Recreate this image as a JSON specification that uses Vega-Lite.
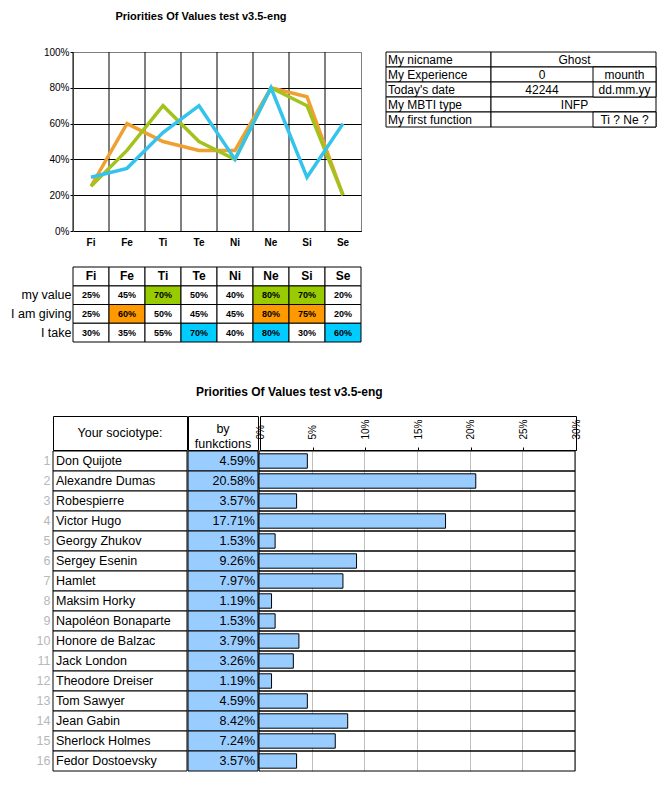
{
  "$schema": "https://vega.github.io/schema/vega-lite/v6.json",
  "padding": {"left": 10, "top": 10, "right": 5, "bottom": 5},
  "autosize": {"type": "pad"},
  "background": "white",
  "config": {
    "view": {"stroke": null},
    "font": "Liberation Sans",
    "axis": {"labelFont": "Liberation Sans", "labelColor": "black"},
    "title": {"font": "Liberation Sans", "color": "black"},
    "text": {"font": "Liberation Sans", "color": "black"}
  },
  "datasets": {
    "values": [
      {"func": "Fi", "row": "I am giving", "value": 0.25},
      {"func": "Fe", "row": "I am giving", "value": 0.60},
      {"func": "Ti", "row": "I am giving", "value": 0.50},
      {"func": "Te", "row": "I am giving", "value": 0.45},
      {"func": "Ni", "row": "I am giving", "value": 0.45},
      {"func": "Ne", "row": "I am giving", "value": 0.80},
      {"func": "Si", "row": "I am giving", "value": 0.75},
      {"func": "Se", "row": "I am giving", "value": 0.20},
      {"func": "Fi", "row": "my value", "value": 0.25},
      {"func": "Fe", "row": "my value", "value": 0.45},
      {"func": "Ti", "row": "my value", "value": 0.70},
      {"func": "Te", "row": "my value", "value": 0.50},
      {"func": "Ni", "row": "my value", "value": 0.40},
      {"func": "Ne", "row": "my value", "value": 0.80},
      {"func": "Si", "row": "my value", "value": 0.70},
      {"func": "Se", "row": "my value", "value": 0.20},
      {"func": "Fi", "row": "I take", "value": 0.30},
      {"func": "Fe", "row": "I take", "value": 0.35},
      {"func": "Ti", "row": "I take", "value": 0.55},
      {"func": "Te", "row": "I take", "value": 0.70},
      {"func": "Ni", "row": "I take", "value": 0.40},
      {"func": "Ne", "row": "I take", "value": 0.80},
      {"func": "Si", "row": "I take", "value": 0.30},
      {"func": "Se", "row": "I take", "value": 0.60}
    ],
    "info": [
      {"label": "My nicname", "value": "Ghost", "unit": null},
      {"label": "My Experience", "value": "0", "unit": "mounth"},
      {"label": "Today's date", "value": "42244", "unit": "dd.mm.yy"},
      {"label": "My MBTI type", "value": "INFP", "unit": null},
      {"label": "My first function", "value": "", "unit": "Ti ? Ne ?"}
    ],
    "types": [
      {"n": 1, "name": "Don Quijote", "pct": 0.0459},
      {"n": 2, "name": "Alexandre Dumas", "pct": 0.2058},
      {"n": 3, "name": "Robespierre", "pct": 0.0357},
      {"n": 4, "name": "Victor Hugo", "pct": 0.1771},
      {"n": 5, "name": "Georgy Zhukov", "pct": 0.0153},
      {"n": 6, "name": "Sergey  Esenin", "pct": 0.0926},
      {"n": 7, "name": "Hamlet", "pct": 0.0797},
      {"n": 8, "name": "Maksim Horky", "pct": 0.0119},
      {"n": 9, "name": "Napoléon Bonaparte", "pct": 0.0153},
      {"n": 10, "name": "Honore de Balzac", "pct": 0.0379},
      {"n": 11, "name": "Jack London", "pct": 0.0326},
      {"n": 12, "name": "Theodore Dreiser", "pct": 0.0119},
      {"n": 13, "name": "Tom Sawyer", "pct": 0.0459},
      {"n": 14, "name": "Jean Gabin", "pct": 0.0842},
      {"n": 15, "name": "Sherlock Holmes", "pct": 0.0724},
      {"n": 16, "name": "Fedor Dostoevsky", "pct": 0.0357}
    ]
  },
  "spacing": 43,
  "vconcat": [
    {
      "spacing": -100,
      "hconcat": [
        {"width": 20, "height": 1, "data": {"values": []}, "mark": "text"},
        {
          "spacing": 23,
          "hconcat": [
            {
              "spacing": 18,
              "vconcat": [
                {
                  "width": 288,
                  "height": 179,
                  "title": {"text": "Priorities Of Values test v3.5-eng", "fontSize": 11, "fontWeight": "bold", "anchor": "middle", "dx": -16, "offset": 14, "frame": "group", "baseline": "bottom"},
                  "view": {"stroke": "#808080"},
                  "data": {"name": "values"},
                  "layer": [
                    {
                      "transform": [{"filter": "datum.row === 'my value'"}],
                      "mark": {"type": "rule", "color": "black", "strokeWidth": 1},
                      "encoding": {
                        "x": {"field": "func", "type": "nominal", "sort": ["Fi", "Fe", "Ti", "Te", "Ni", "Ne", "Si", "Se"], "bandPosition": 0,
                          "scale": {"type": "band", "paddingInner": 0, "paddingOuter": 0},
                          "axis": {"title": null, "labelFontSize": 10, "labelFontWeight": "bold", "labelAngle": 0, "ticks": false, "domainColor": "black", "labelPadding": 6, "grid": false}}
                      }
                    },
                    {
                      "mark": {"type": "line", "strokeWidth": 3.5},
                      "encoding": {
                        "x": {"field": "func", "type": "nominal", "sort": ["Fi", "Fe", "Ti", "Te", "Ni", "Ne", "Si", "Se"], "bandPosition": 0.5,
                          "scale": {"type": "band", "paddingInner": 0, "paddingOuter": 0}},
                        "y": {"field": "value", "type": "quantitative", "scale": {"domain": [0, 1]},
                          "axis": {"title": null, "values": [0, 0.2, 0.4, 0.6, 0.8, 1], "format": ".0%", "grid": true,
                            "gridColor": {"condition": {"test": "datum.value === 1", "value": "#808080"}, "value": "black"},
                            "gridOpacity": 1, "domainColor": "#808080", "tickColor": "black", "tickSize": 3, "labelFontSize": 10, "labelPadding": 1}},
                        "stroke": {"field": "row", "type": "nominal", "scale": {"domain": ["I am giving", "my value", "I take"], "range": ["#F0A030", "#A3C21E", "#33C3EC"]}, "legend": null}
                      }
                    }
                  ]
                },
                {
                  "width": 288,
                  "height": 75,
                  "data": {"name": "values"},
                  "transform": [{"window": [{"op": "rank", "as": "rank"}], "groupby": ["row"], "sort": [{"field": "value", "order": "descending"}]}],
                  "encoding": {
                    "x": {"field": "func", "type": "nominal", "sort": ["Fi", "Fe", "Ti", "Te", "Ni", "Ne", "Si", "Se"], "scale": {"paddingInner": 0, "paddingOuter": 0}, "axis": null},
                    "y": {"field": "row", "type": "nominal", "scale": {"domain": [" ", "my value", "I am giving", "I take"], "paddingInner": 0, "paddingOuter": 0},
                      "axis": {"title": null, "domain": false, "ticks": false, "labelFontSize": 12.5, "labelPadding": 2}}
                  },
                  "layer": [
                    {
                      "mark": {"type": "rect", "stroke": "black", "strokeWidth": 1},
                      "encoding": {
                        "fill": {"condition": {"test": "datum.rank <= 3", "field": "row", "type": "nominal", "scale": {"domain": ["my value", "I am giving", "I take"], "range": ["#99CC00", "#FF9900", "#00CCFF"]}, "legend": null}, "value": "white"}
                      }
                    },
                    {
                      "mark": {"type": "text", "fontSize": 9, "fontWeight": "bold"},
                      "encoding": {"text": {"field": "value", "type": "quantitative", "format": ".0%"}}
                    },
                    {
                      "transform": [{"filter": "datum.row === 'my value'"}],
                      "mark": {"type": "rect", "stroke": "black", "strokeWidth": 1, "fill": "white"},
                      "encoding": {"y": {"datum": " ", "type": "nominal"}}
                    },
                    {
                      "transform": [{"filter": "datum.row === 'my value'"}],
                      "mark": {"type": "text", "fontSize": 12, "fontWeight": "bold"},
                      "encoding": {"y": {"datum": " ", "type": "nominal"}, "text": {"field": "func"}}
                    }
                  ]
                }
              ]
            },
            {
              "width": 270,
              "height": 75,
              "data": {"name": "info"},
              "encoding": {
                "y": {"field": "label", "type": "nominal", "sort": ["My nicname", "My Experience", "Today's date", "My MBTI type", "My first function"], "scale": {"paddingInner": 0, "paddingOuter": 0}, "axis": null}
              },
              "layer": [
                {"mark": {"type": "rect", "fill": "white", "stroke": "black"},
                  "encoding": {"x": {"datum": 0, "type": "quantitative", "scale": {"domain": [0, 270], "nice": false, "zero": false}, "axis": null}, "x2": {"datum": 105}}},
                {"mark": {"type": "rect", "fill": "white", "stroke": "black"},
                  "encoding": {"x": {"datum": 105, "type": "quantitative"}, "x2": {"datum": 270}}},
                {"transform": [{"filter": "datum.unit != null"}],
                  "mark": {"type": "rect", "fill": "white", "stroke": "black"},
                  "encoding": {"x": {"datum": 207, "type": "quantitative"}, "x2": {"datum": 270}}},
                {"mark": {"type": "text", "align": "left", "dx": 2, "fontSize": 12},
                  "encoding": {"x": {"datum": 0, "type": "quantitative"}, "text": {"field": "label"}}},
                {"transform": [{"filter": "datum.unit == null"}],
                  "mark": {"type": "text", "fontSize": 12},
                  "encoding": {"x": {"datum": 188.5, "type": "quantitative"}, "text": {"field": "value"}}},
                {"transform": [{"filter": "datum.unit != null"}],
                  "mark": {"type": "text", "fontSize": 12},
                  "encoding": {"x": {"datum": 156, "type": "quantitative"}, "text": {"field": "value"}}},
                {"transform": [{"filter": "datum.unit != null"}],
                  "mark": {"type": "text", "fontSize": 12},
                  "encoding": {"x": {"datum": 238.5, "type": "quantitative"}, "text": {"field": "unit"}}}
              ]
            }
          ]
        }
      ]
    },
    {
      "title": {"text": "Priorities Of Values test v3.5-eng", "fontSize": 12, "fontWeight": "bold", "anchor": "middle", "dx": -19.5, "offset": 4.5, "baseline": "bottom"},
      "spacing": -2,
      "vconcat": [
        {
          "spacing": -5,
          "hconcat": [
            {
              "spacing": -2,
              "hconcat": [
                {"width": 134, "height": 34, "view": {"stroke": "black"}, "data": {"values": [{"t": "Your sociotype:"}]},
                  "mark": {"type": "text", "fontSize": 12.5}, "encoding": {"text": {"field": "t"}}},
                {"width": 70, "height": 34, "view": {"stroke": "black"}, "data": {"values": [{"t": ["by", "funkctions"]}]},
                  "mark": {"type": "text", "fontSize": 12.5, "lineHeight": 15.5, "dy": -4.5}, "encoding": {"text": {"field": "t"}}}
              ]
            },
            {"width": 316, "height": 34, "view": {"stroke": "black"}, "data": {"values": [{"t": ""}]},
              "mark": {"type": "text"},
              "encoding": {
                "x": {"datum": 0, "type": "quantitative", "scale": {"domain": [0, 0.3]},
                  "axis": {"orient": "top", "offset": -34, "title": null, "values": [0, 0.05, 0.1, 0.15, 0.2, 0.25, 0.3], "format": ".0%",
                    "labelAngle": 270, "labelAlign": "left", "labelBaseline": "middle", "labelPadding": 8, "labelFontSize": 10,
                    "labelFlush": false, "labelOverlap": false, "ticks": true, "tickSize": 3, "tickColor": "black", "domain": false, "grid": false}},
                "text": {"field": "t"}
              }}
          ]
        },
        {
          "spacing": -1,
          "hconcat": [
            {
              "spacing": -2,
              "hconcat": [
                {
                  "width": 134,
                  "height": 320,
                  "data": {"name": "types"},
                  "encoding": {
                    "y": {"field": "n", "type": "ordinal", "scale": {"paddingInner": 0, "paddingOuter": 0},
                      "axis": {"title": null, "domain": false, "ticks": false, "labelColor": "#b8b8b8", "labelFontSize": 12.5, "labelPadding": 3}}
                  },
                  "layer": [
                    {"mark": {"type": "rect", "fill": "white", "stroke": "black", "strokeWidth": 1},
                      "encoding": {"x": {"datum": 0, "type": "quantitative", "scale": {"domain": [0, 1]}, "axis": null}, "x2": {"datum": 1}}},
                    {"mark": {"type": "text", "align": "left", "baseline": "middle", "dx": 3, "fontSize": 12.5},
                      "encoding": {"x": {"datum": 0, "type": "quantitative"}, "text": {"field": "name"}}}
                  ]
                },
                {
                  "width": 70,
                  "height": 320,
                  "data": {"name": "types"},
                  "encoding": {
                    "y": {"field": "n", "type": "ordinal", "scale": {"paddingInner": 0, "paddingOuter": 0}, "axis": null}
                  },
                  "layer": [
                    {"mark": {"type": "rect", "fill": "#99CCFF", "stroke": "black", "strokeWidth": 1},
                      "encoding": {"x": {"datum": 0, "type": "quantitative", "scale": {"domain": [0, 1]}, "axis": null}, "x2": {"datum": 1}}},
                    {"mark": {"type": "text", "align": "right", "baseline": "middle", "dx": -3, "fontSize": 12.5},
                      "encoding": {"x": {"datum": 1, "type": "quantitative"}, "text": {"field": "pct", "type": "quantitative", "format": ".2%"}}}
                  ]
                }
              ]
            },
            {
              "width": 316,
              "height": 320,
              "data": {"name": "types"},
              "encoding": {
                "y": {"field": "n", "type": "ordinal", "scale": {"paddingInner": 0, "paddingOuter": 0}, "axis": null}
              },
              "layer": [
                {"mark": {"type": "rect", "fill": "transparent", "stroke": "black", "strokeWidth": 1},
                  "encoding": {
                    "x": {"datum": 0, "type": "quantitative", "scale": {"domain": [0, 0.3]},
                      "axis": {"orient": "top", "title": null, "values": [0, 0.05, 0.1, 0.15, 0.2, 0.25, 0.3],
                        "labels": false, "ticks": false, "domain": false, "grid": true, "gridColor": "#bfbfbf", "gridOpacity": 1}},
                    "x2": {"datum": 0.3}
                  }},
                {"mark": {"type": "bar", "fill": "#99CCFF", "stroke": "black", "strokeWidth": 1, "height": {"band": 0.72}},
                  "encoding": {"x": {"field": "pct", "type": "quantitative"}}}
              ]
            }
          ]
        }
      ]
    }
  ]
}
